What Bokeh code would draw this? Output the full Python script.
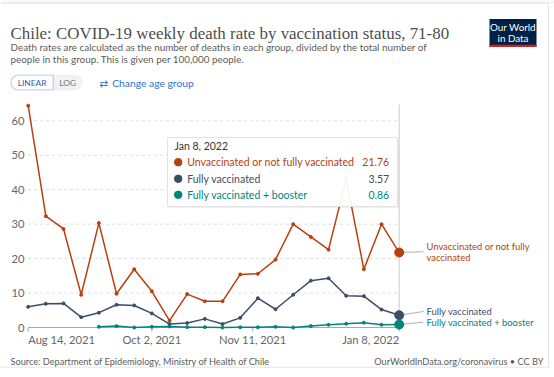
import pandas as pd
from bokeh.plotting import figure
from bokeh.models import Range1d, BoxAnnotation
from bokeh.core.properties import value
from bokeh.embed import file_html
from bokeh.resources import INLINE

# ---------------- data ----------------
start_date = "2021-08-14"
n_weeks = 22
dates = pd.date_range(start_date, periods=n_weeks, freq="7D")

unvaccinated = [64.4, 32.3, 28.6, 9.5, 30.3, 9.8, 16.9, 10.5, 2.0, 9.7, 7.6,
                7.6, 15.4, 15.6, 19.7, 30.0, 26.3, 22.6, 43.1, 16.9, 30.0, 21.76]
fully_vaccinated = [6.0, 6.9, 7.0, 3.0, 4.3, 6.6, 6.4, 4.1, 1.0, 1.3, 2.5,
                    1.0, 2.8, 8.5, 5.3, 9.5, 13.6, 14.3, 9.2, 9.1, 5.2, 3.57]
booster_start = 4
booster = [0.2, 0.4, 0.0, 0.2, 0.3, 0.1, 0.1, 0.0, 0.05, 0.05, 0.2,
           0.0, 0.4, 0.8, 1.1, 1.4, 0.8, 0.86]
booster_dates = dates[booster_start:]

series_names = ["Unvaccinated or not fully vaccinated", "Fully vaccinated",
                "Fully vaccinated + booster"]
end_label_lines = [["Unvaccinated or not fully", "vaccinated"],
                   ["Fully vaccinated"], ["Fully vaccinated + booster"]]
colors = ["#b8400e", "#3c4e66", "#00847e"]

y_ticks = [0, 10, 20, 30, 40, 50, 60]
x_tick_dates = pd.to_datetime(["2021-08-14", "2021-10-02", "2021-11-11", "2022-01-08"])
x_tick_labels = ["Aug 14, 2021", "Oct 2, 2021", "Nov 11, 2021", "Jan 8, 2022"]
tooltip_date = "Jan 8, 2022"

title = "Chile: COVID-19 weekly death rate by vaccination status, 71-80"
subtitle = ["Death rates are calculated as the number of deaths in each group, divided by the total number of",
            "people in this group. This is given per 100,000 people."]
source = "Source: Department of Epidemiology, Ministry of Health of Chile"
credit = "OurWorldInData.org/coronavirus \u2022 CC BY"

# ---------------- layout (pixels) ----------------
FONT = "Lato"
W, H = 554, 377
X0_PX, X1_PX = 27.7, 398.7      # pixel column of first / last week
Y0_PX, PX_PER_UNIT = 327.0, 3.445   # pixel row of value 0, pixels per unit

n_days = (dates[-1] - dates[0]).days
px_per_day = (X1_PX - X0_PX) / n_days
x_start = dates[0] - pd.Timedelta(days=X0_PX / px_per_day)
x_end = dates[0] + pd.Timedelta(days=(W - X0_PX) / px_per_day)
y_start = (Y0_PX - H) / PX_PER_UNIT
y_end = Y0_PX / PX_PER_UNIT

p = figure(width=W, height=H, x_axis_type="datetime", output_backend="svg",
           toolbar_location=None, x_axis_location=None, y_axis_location=None,
           min_border=0, x_range=Range1d(x_start, x_end),
           y_range=Range1d(y_start, y_end))
p.outline_line_color = None
p.background_fill_color = "white"
p.border_fill_color = "white"
p.xgrid.visible = False
p.ygrid.visible = False
# pixel space (y downwards) for page furniture
p.extra_x_ranges = {"px": Range1d(0, W)}
p.extra_y_ranges = {"px": Range1d(H, 0)}
PX = dict(x_range_name="px", y_range_name="px")


def px_to_date(x):
    return dates[0] + pd.Timedelta(days=(x - X0_PX) / px_per_day)


def px_to_val(y):
    return (Y0_PX - y) / PX_PER_UNIT


def txt(text, x, y, size="11px", color="#666666", align="left",
        baseline="middle", font=FONT, style="normal"):
    p.text(x=[x], y=[y], text=[text], text_font=value(font),
           text_font_size=value(size), text_color=color, text_align=align,
           text_baseline=baseline, text_font_style=style, **PX)


def box(l, t, r, b, **kw):
    p.add_layout(BoxAnnotation(left=l, right=r, top=t, bottom=b,
                               level="underlay", **kw, **PX))


# card borders / top strip
p.quad(left=[0], right=[W], top=[0], bottom=[3], fill_color="#f4f4f4",
       line_color=None, **PX)
p.segment(x0=[0, 548, 0], y0=[366.7, 3, 3], x1=[548, 548, 548],
          y1=[366.7, 366.7, 3], line_color="#e4e4e4", line_width=1, **PX)

# grid lines (dashed, only across the data span)
grid_ticks = y_ticks[1:]
p.segment(x0=[dates[0]] * len(grid_ticks), x1=[dates[-1]] * len(grid_ticks),
          y0=grid_ticks, y1=grid_ticks, line_color="#dddddd",
          line_dash="3 3", line_width=1)
# hover line at the last date
p.segment(x0=[dates[-1]], x1=[dates[-1]], y0=[px_to_val(104)], y1=[0],
          line_color="#cccccc", line_width=1)
# x axis baseline and ticks
p.segment(x0=[dates[0]], x1=[dates[-1]], y0=[0], y1=[0],
          line_color="#a8a8a8", line_width=1)
p.segment(x0=list(x_tick_dates), x1=list(x_tick_dates),
          y0=[0] * len(x_tick_dates), y1=[px_to_val(Y0_PX + 4)] * len(x_tick_dates),
          line_color="#a8a8a8", line_width=1)

# y tick labels
p.text(x=[24] * len(y_ticks), y=y_ticks, text=[str(t) for t in y_ticks],
       text_font=value(FONT), text_font_size=value("11.2px"),
       text_color="#666666", text_align="right", text_baseline="middle",
       x_range_name="px")
# x tick labels (first left-aligned, last right-aligned)
aligns = ["left"] + ["center"] * (len(x_tick_labels) - 2) + ["right"]
for d, t, a in zip(x_tick_dates, x_tick_labels, aligns):
    p.text(x=[d], y=[px_to_val(338.5)], text=[t], text_font=value(FONT),
           text_font_size=value("11.2px"), text_color="#666666",
           text_align=a, text_baseline="middle")

# connectors from the last points to end labels
end_values = [unvaccinated[-1], fully_vaccinated[-1], booster[-1]]
label_rows = [251.2, 311, 321.7]
p.segment(x0=[dates[-1]] * 3, y0=end_values,
          x1=[px_to_date(423)] * 3, y1=[px_to_val(r) for r in label_rows],
          line_color="#b0b0b0", line_width=1)

# series
p.line(dates, unvaccinated, line_color=colors[0], line_width=1.5)
p.scatter(dates, unvaccinated, size=3, color=colors[0])
p.line(dates, fully_vaccinated, line_color=colors[1], line_width=1.5)
p.scatter(dates, fully_vaccinated, size=3, color=colors[1])
p.line(booster_dates, booster, line_color=colors[2], line_width=1.5)
p.scatter(booster_dates, booster, size=3, color=colors[2])
p.scatter([dates[-1]] * 3, end_values, size=9, color=colors)

# end labels
for lines, ly, c in zip(end_label_lines, [245.7, 311, 321.7], colors):
    for i, t in enumerate(lines):
        txt(t, 426, ly + i * 11, size="9.4px", color=c)

# title / subtitle
txt(title, 10, 33, size="16.9px", color="#4e4e4e", baseline="alphabetic",
    font="Liberation Serif")
txt(subtitle[0], 10, 46.5, size="9.9px", color="#5b5b5b", baseline="alphabetic")
txt(subtitle[1], 10, 58.5, size="9.9px", color="#5b5b5b", baseline="alphabetic")

# LINEAR / LOG toggle and age-group link
box(52.7, 74.7, 81.7, 89.3, fill_color="#f2f2f2", fill_alpha=1,
    line_color="#dddddd", line_width=1, border_radius=(0, 7, 7, 0))
box(10.5, 74.7, 52.7, 89.3, fill_color="white", fill_alpha=1,
    line_color="#3a78c9", line_width=1.3, border_radius=(7, 0, 0, 7))
txt("LINEAR", 31.6, 82.3, size="8.4px", color="#2d5ea8", align="center")
txt("LOG", 67.2, 82.3, size="8.4px", color="#777777", align="center")
txt("\u21c4", 99, 82, size="10.5px", color="#2e72d2", font="DejaVu Sans")
txt("Change age group", 111.7, 82, size="10.3px", color="#2e72d2")

# Our World in Data logo
LOGO_L, LOGO_R, LOGO_T, LOGO_B = 489, 536, 18.5, 46.5
p.quad(left=[LOGO_L], right=[LOGO_R], top=[LOGO_T], bottom=[LOGO_B],
       fill_color="#002147", line_color=None, **PX)
p.quad(left=[LOGO_L], right=[LOGO_R], top=[LOGO_B - 2.3], bottom=[LOGO_B],
       fill_color="#ce261e", line_color=None, **PX)
txt("Our World", (LOGO_L + LOGO_R) / 2, 26.5, size="9.8px", color="white",
    align="center")
txt("in Data", (LOGO_L + LOGO_R) / 2, 37.2, size="9.8px", color="white",
    align="center")

# tooltip
p.quad(left=[168.5], right=[398.5], top=[138.5], bottom=[207.5],
       fill_color="black", fill_alpha=0.06, line_color=None, **PX)
p.quad(left=[167], right=[397], top=[137], bottom=[206], fill_color="white",
       fill_alpha=0.94, line_color="#e2e2e2", line_width=1, **PX)
txt(tooltip_date, 174, 145, size="10.5px", color="#333333")
row_y = [161.7, 178.3, 194.3]
p.scatter(x=[177.7] * 3, y=row_y, size=7.5, color=colors, **PX)
for name, v, c, ry in zip(series_names, end_values, colors, row_y):
    txt(name, 186.7, ry, size="10.5px", color=c)
    txt(f"{v:.2f}", 388.7, ry, size="10.5px", color=c, align="right")

# footer
txt(source, 10, 360.7, size="9.2px", color="#5b5b5b")
txt(credit, 543, 360.7, size="9.2px", color="#5b5b5b", align="right")

open("out.html", "w").write(file_html(p, INLINE))
